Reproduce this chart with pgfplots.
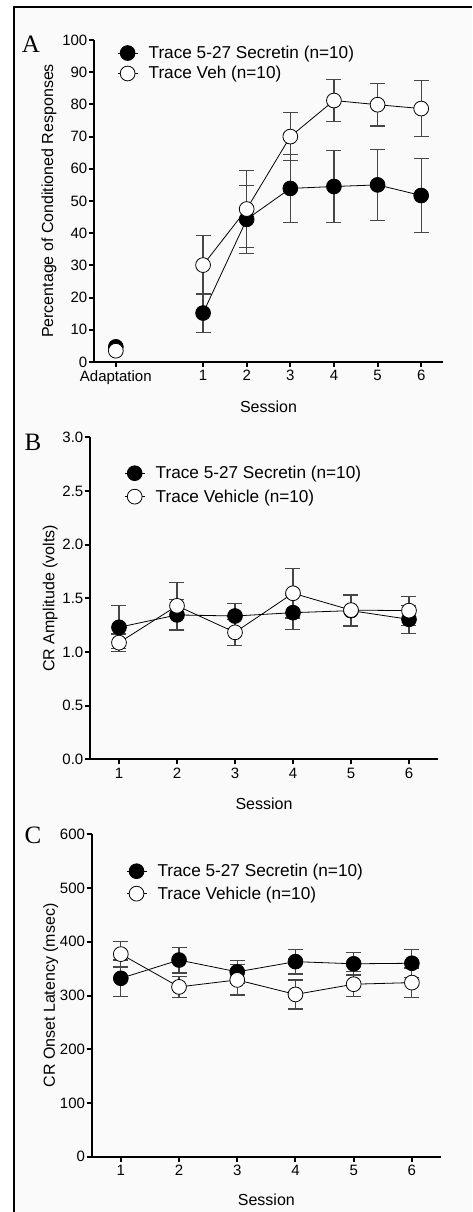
\documentclass[border=0pt]{standalone}
\usepackage{fontspec}
\setmainfont{Liberation Sans}
\newfontfamily\panelfont{Liberation Serif}
\usepackage{pgfplots}
\pgfplotsset{compat=1.18}

\definecolor{errgray}{RGB}{70,70,70}
\definecolor{bg}{RGB}{250,250,250}

\pgfplotsset{
  panel/.style={
    scale only axis,
    axis lines=left,
    axis line style={line width=2pt, -},
    tick style={line width=2pt, black},
    tick align=outside,
    major tick length=5pt,
    clip=false,
    anchor=south west,
    tick label style={font=\fontsize{15}{18}\selectfont},
    /pgf/number format/assume math mode=true,
    label style={font=\fontsize{16}{19}\selectfont},
    legend cell align=left,
    legend style={draw=none, fill=none, inner sep=0pt, anchor=north west,
      font=\fontsize{17.2}{19}\selectfont},
    legend image code/.code={
      \draw[##1, mark repeat=2, mark phase=2] plot coordinates {(0pt,0pt) (10pt,0pt) (20pt,0pt)};
      \path[draw=none, fill=none] (0pt,0pt) -- (29pt,0pt);},
    yticklabel style={inner sep=1.5pt},
  },
  secm/.style={black, line width=0.8pt, mark=*, mark size=7.4pt,
    mark options={fill=black, draw=black, solid, line width=0.8pt}},
  vehm/.style={black, line width=0.8pt, mark=*, mark size=7.4pt,
    mark options={fill=white, draw=black, solid, line width=0.8pt}},
  eb/.style={error bars/.cd, y dir=both, y explicit,
    error bar style={errgray, line width=1.2pt},
    error mark options={rotate=90, mark size=7.5pt, line width=1.2pt, errgray}},
}

\begin{document}
\begin{tikzpicture}
\useasboundingbox (0,0) rectangle (472pt,1212pt);
\fill[bg] (14pt,0) rectangle (472pt,1205pt);
\draw[line width=2pt] (14pt,0) -- (14pt,1205pt) -- (472pt,1205pt);

% panel A
\begin{axis}[panel, at={(94pt,850pt)}, width=349pt, height=322pt,
  xmin=-1.5, xmax=6.5, ymin=0, ymax=100,
  xtick={-1,1,2,3,4,5,6}, xticklabels={Adaptation,1,2,3,4,5,6},
  ytick={0,10,20,30,40,50,60,70,80,90,100},
  xlabel={Session}, ylabel={Percentage of Conditioned Responses},
  xlabel style={at={(axis description cs:0.5,-0.14)}, anchor=center},
  ylabel style={at={(axis description cs:-0.129,0.5)}, anchor=center},
  legend style={at={(axis description cs:0.066,0.988)}, row sep=2.5pt}]
\addplot[secm, only marks, forget plot] coordinates {(-1,4.7)};
\addplot[secm, eb] coordinates {
  (1,15.2) +- (0,6.1)
  (2,44.3) +- (0,10.5)
  (3,53.9) +- (0,10.6)
  (4,54.5) +- (0,11.2)
  (5,55.0) +- (0,11.0)
  (6,51.7) +- (0,11.5)
};
\addlegendentry{Trace 5-27 Secretin (n=10)}
\addplot[vehm, only marks, forget plot] coordinates {(-1,3.5)};
\addplot[vehm, eb] coordinates {
  (1,30.1) +- (0,9.2)
  (2,47.5) +- (0,12.0)
  (3,70.0) +- (0,7.4)
  (4,81.2) +- (0,6.5)
  (5,79.9) +- (0,6.6)
  (6,78.7) +- (0,8.7)
};
\addlegendentry{Trace Veh (n=10)}
\end{axis}

% panel B
\begin{axis}[panel, at={(90pt,452.7pt)}, width=348pt, height=322pt,
  xmin=0.5, xmax=6.5, ymin=0, ymax=3,
  xtick={1,2,3,4,5,6}, ytick={0,0.5,1,1.5,2,2.5,3},
  yticklabel style={/pgf/number format/.cd, fixed, fixed zerofill, precision=1},
  xlabel={Session}, ylabel={CR Amplitude (volts)},
  xlabel style={at={(axis description cs:0.5,-0.137)}, anchor=center},
  ylabel style={at={(axis description cs:-0.114,0.5)}, anchor=center},
  legend style={at={(axis description cs:0.098,0.917)}, row sep=5.5pt}]
\addplot[secm, eb] coordinates {
  (1,1.23) +- (0,0.20)
  (2,1.345) +- (0,0.145)
  (3,1.335) +- (0,0.12)
  (4,1.366) +- (0,0.16)
  (5,1.385) +- (0,0.15)
  (6,1.304) +- (0,0.13)
};
\addlegendentry{Trace 5-27 Secretin (n=10)}
\addplot[vehm, eb] coordinates {
  (1,1.087) +- (0,0.08)
  (2,1.43) +- (0,0.22)
  (3,1.183) +- (0,0.12)
  (4,1.547) +- (0,0.23)
  (5,1.39) +- (0,0.14)
  (6,1.385) +- (0,0.135)
};
\addlegendentry{Trace Vehicle (n=10)}
\end{axis}

% panel C
\begin{axis}[panel, at={(91.7pt,55.3pt)}, width=349.3pt, height=322.4pt,
  xmin=0.5, xmax=6.5, ymin=0, ymax=600,
  xtick={1,2,3,4,5,6}, ytick={0,100,200,300,400,500,600},
  xlabel={Session}, ylabel={CR Onset Latency (msec)},
  xlabel style={at={(axis description cs:0.5,-0.134)}, anchor=center},
  ylabel style={at={(axis description cs:-0.117,0.5)}, anchor=center},
  legend style={at={(axis description cs:0.098,0.914)}, row sep=4.5pt}]
\addplot[secm, eb] coordinates {
  (1,332) +- (0,34)
  (2,366) +- (0,24)
  (3,344) +- (0,21)
  (4,363) +- (0,23)
  (5,359) +- (0,21)
  (6,360) +- (0,26)
};
\addlegendentry{Trace 5-27 Secretin (n=10)}
\addplot[vehm, eb] coordinates {
  (1,377) +- (0,24)
  (2,316) +- (0,19)
  (3,329) +- (0,28)
  (4,302) +- (0,27)
  (5,321) +- (0,23)
  (6,324) +- (0,27)
};
\addlegendentry{Trace Vehicle (n=10)}
\end{axis}

\node[font=\panelfont\fontsize{25}{25}\selectfont] at (31pt,1167.3pt) {A};
\node[font=\panelfont\fontsize{25}{25}\selectfont] at (33pt,769.5pt) {B};
\node[font=\panelfont\fontsize{25}{25}\selectfont] at (33pt,376.5pt) {C};
\end{tikzpicture}
\end{document}
